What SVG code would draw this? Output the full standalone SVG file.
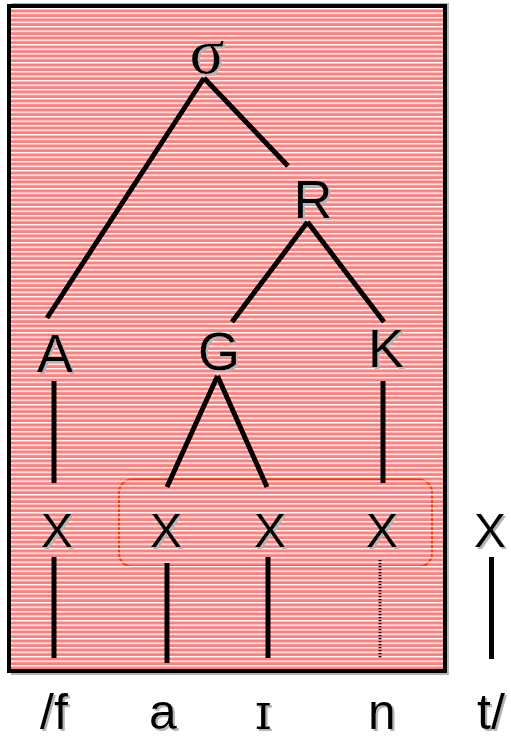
<svg xmlns="http://www.w3.org/2000/svg" width="511" height="740" viewBox="0 0 511 740">
<defs>
<pattern id="stripes" patternUnits="userSpaceOnUse" x="0" y="8" width="20" height="4.5">
<rect x="0" y="0" width="20" height="1.4" fill="#ffffff"/>
</pattern>
<filter id="sh" x="-20%" y="-20%" width="140%" height="140%">
<feFlood flood-color="#b4b4b4"/>
<feComposite in2="SourceAlpha" operator="in"/>
<feOffset dx="2" dy="1.5" result="s"/>
<feMerge><feMergeNode in="s"/><feMergeNode in="SourceGraphic"/></feMerge>
</filter>
</defs>
<style>
.lbl{font-family:"Liberation Sans",Arial,sans-serif;font-size:54px;fill:#000;text-anchor:middle;filter:url(#sh)}
.x{font-size:48px}
.bot{font-size:50px}
.serif{font-family:"Liberation Serif","Times New Roman",serif}
.dserif{font-family:"DejaVu Serif","Liberation Serif",serif}
.edge{stroke:#000;stroke-width:5;fill:none;stroke-linecap:butt}
</style>
<rect x="0" y="0" width="511" height="740" fill="#ffffff"/>
<g id="frame">
<rect x="11" y="3" width="438" height="672" fill="#b4b4b4"/>
<rect x="9" y="6" width="436" height="665" fill="#ff7f7f"/>
<rect id="group-box" x="119" y="479.5" width="313" height="87" rx="13" ry="13" fill="none" stroke="#ff3300" stroke-width="2"/>
<rect x="9" y="6" width="436" height="665" fill="url(#stripes)"/>
<rect x="9" y="6" width="436" height="665" fill="none" stroke="#000" stroke-width="4"/>
</g>
<g id="connectors">
<line class="edge" x1="204" y1="78" x2="47" y2="318"/>
<line class="edge" x1="204" y1="78" x2="288" y2="166"/>
<line class="edge" x1="307.5" y1="222" x2="232" y2="322"/>
<line class="edge" x1="307.5" y1="222" x2="384" y2="322"/>
<line class="edge" x1="217.5" y1="376" x2="167" y2="487"/>
<line class="edge" x1="217.5" y1="376" x2="267" y2="487"/>
<line class="edge" x1="54" y1="381" x2="54" y2="483"/>
<line class="edge" x1="383" y1="381" x2="383" y2="483"/>
<line class="edge" x1="54" y1="557" x2="54" y2="658"/>
<line class="edge" x1="167" y1="563" x2="167" y2="663"/>
<line class="edge" x1="268" y1="557" x2="268" y2="658"/>
<line x1="380" y1="560" x2="380" y2="658" stroke="#111" stroke-width="3" stroke-dasharray="1.2 1.8"/>
<line class="edge" x1="491.5" y1="557" x2="491.5" y2="659"/>
</g>
<g id="node-sigma"><text class="lbl serif" x="207" y="73" style="font-size:64px">σ</text></g>
<g id="node-R"><text class="lbl" x="313" y="218">R</text></g>
<g id="node-A"><text class="lbl" x="55" y="372">A</text></g>
<g id="node-G"><text class="lbl" x="219" y="370">G</text></g>
<g id="node-K"><text class="lbl" x="386" y="367">K</text></g>
<g id="node-x1"><text class="lbl x" x="57" y="547">X</text></g>
<g id="node-x2"><text class="lbl x" x="166" y="547">X</text></g>
<g id="node-x3"><text class="lbl x" x="270" y="547">X</text></g>
<g id="node-x4"><text class="lbl x" x="382" y="547">X</text></g>
<g id="node-x5"><text class="lbl x" x="490" y="547">X</text></g>
<g id="seg-f"><text class="lbl bot" x="54" y="729">/f</text></g>
<g id="seg-a"><text class="lbl bot" x="163" y="729">a</text></g>
<g id="seg-i"><text class="lbl bot dserif" x="263" y="729">ɪ</text></g>
<g id="seg-n"><text class="lbl bot" x="382" y="729">n</text></g>
<g id="seg-t"><text class="lbl bot" x="491" y="729">t/</text></g>
</svg>
